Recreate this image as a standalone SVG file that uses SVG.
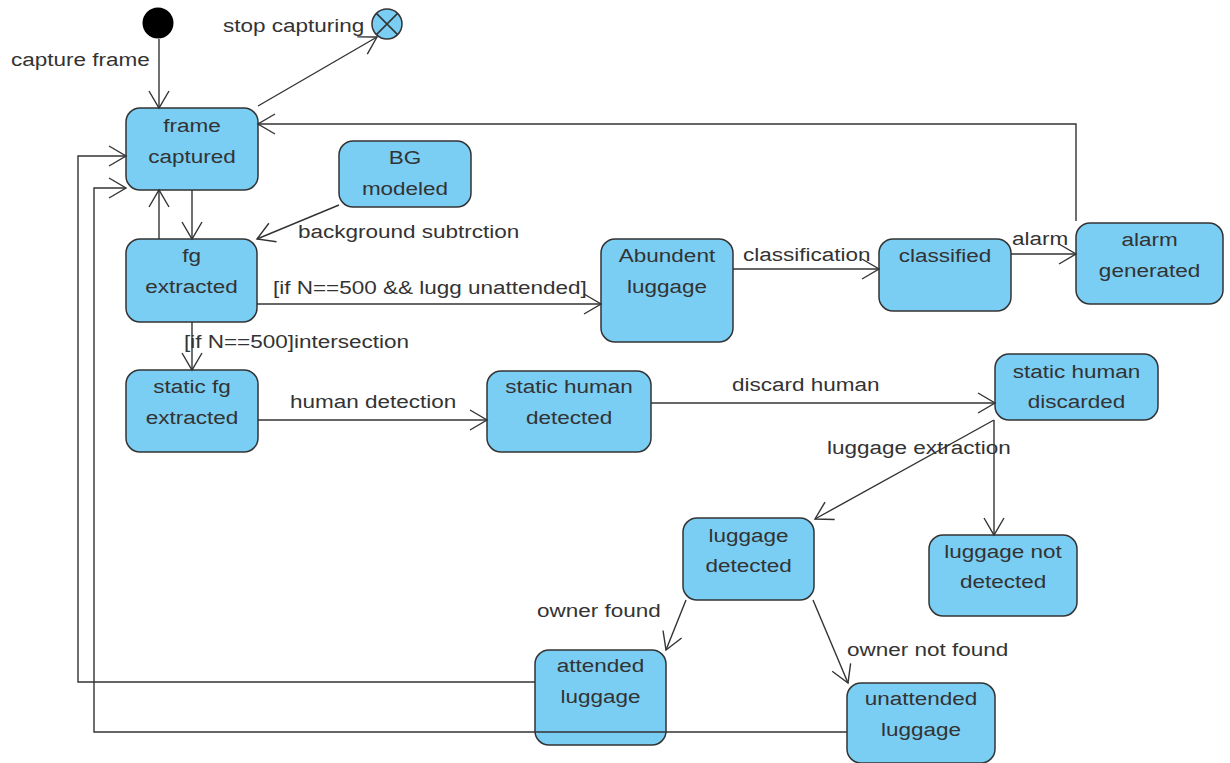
<svg xmlns="http://www.w3.org/2000/svg" width="1230" height="763" viewBox="0 0 1230 763">
<style>
.n{fill:#7ACEF4;stroke:#333;stroke-width:1.5}
.t{font-family:"Liberation Sans",Arial,sans-serif;font-size:18px;fill:#333}
.c{text-anchor:middle}
.e{fill:none;stroke:#333;stroke-width:1.4}
</style>
<defs>
<marker id="a" markerUnits="userSpaceOnUse" markerWidth="20" markerHeight="22" refX="17" refY="10" orient="auto" overflow="visible">
<path d="M0,0 L17,10 L0,20" fill="none" stroke="#333" stroke-width="1.4"/>
</marker>
</defs>
<rect width="1230" height="763" fill="#fff"/>

<g id="initial"><circle cx="158" cy="23" r="15.5" fill="#000"/></g>
<g id="final"><circle cx="387" cy="24" r="15" fill="#7ACEF4" stroke="#333" stroke-width="1.5"/>
<path d="M376.4,13.4 L397.6,34.6 M397.6,13.4 L376.4,34.6" stroke="#333" stroke-width="1.5"/></g>

<g id="frame_captured"><rect class="n" x="126" y="108" width="132" height="82" rx="14"/>
<text class="t c" transform="translate(192,132) scale(1.25,1)">frame</text>
<text class="t c" transform="translate(192,163) scale(1.25,1)">captured</text></g>

<g id="bg_modeled"><rect class="n" x="339" y="141" width="132" height="66" rx="14"/>
<text class="t c" transform="translate(405,164) scale(1.25,1)">BG</text>
<text class="t c" transform="translate(405,195) scale(1.25,1)">modeled</text></g>

<g id="fg_extracted"><rect class="n" x="126" y="239" width="131" height="83" rx="14"/>
<text class="t c" transform="translate(191.5,262) scale(1.25,1)">fg</text>
<text class="t c" transform="translate(191.5,293) scale(1.25,1)">extracted</text></g>

<g id="abundent_luggage"><rect class="n" x="601" y="239" width="132" height="103" rx="14"/>
<text class="t c" transform="translate(667,262) scale(1.25,1)">Abundent</text>
<text class="t c" transform="translate(667,293) scale(1.25,1)">luggage</text></g>

<g id="classified"><rect class="n" x="879" y="239" width="132" height="72" rx="14"/>
<text class="t c" transform="translate(945,262) scale(1.25,1)">classified</text></g>

<g id="alarm_generated"><rect class="n" x="1076" y="223" width="147" height="81" rx="14"/>
<text class="t c" transform="translate(1149.5,246) scale(1.25,1)">alarm</text>
<text class="t c" transform="translate(1149.5,277) scale(1.25,1)">generated</text></g>

<g id="static_fg_extracted"><rect class="n" x="126" y="370" width="132" height="82" rx="14"/>
<text class="t c" transform="translate(192,393) scale(1.25,1)">static fg</text>
<text class="t c" transform="translate(192,424) scale(1.25,1)">extracted</text></g>

<g id="static_human_detected"><rect class="n" x="487" y="371" width="164" height="81" rx="14"/>
<text class="t c" transform="translate(569,393) scale(1.25,1)">static human</text>
<text class="t c" transform="translate(569,424) scale(1.25,1)">detected</text></g>

<g id="static_human_discarded"><rect class="n" x="995" y="354" width="163" height="66" rx="14"/>
<text class="t c" transform="translate(1076.5,378) scale(1.25,1)">static human</text>
<text class="t c" transform="translate(1076.5,408) scale(1.25,1)">discarded</text></g>

<g id="luggage_detected"><rect class="n" x="683" y="518" width="131" height="82" rx="14"/>
<text class="t c" transform="translate(748.5,542) scale(1.25,1)">luggage</text>
<text class="t c" transform="translate(748.5,572) scale(1.25,1)">detected</text></g>

<g id="luggage_not_detected"><rect class="n" x="929" y="535" width="148" height="81" rx="14"/>
<text class="t c" transform="translate(1003,558) scale(1.25,1)">luggage not</text>
<text class="t c" transform="translate(1003,588) scale(1.25,1)">detected</text></g>

<g id="attended_luggage"><rect class="n" x="535" y="650" width="131" height="95" rx="14"/>
<text class="t c" transform="translate(600.5,672) scale(1.25,1)">attended</text>
<text class="t c" transform="translate(600.5,703) scale(1.25,1)">luggage</text></g>

<g id="unattended_luggage"><rect class="n" x="847" y="683" width="148" height="80" rx="14"/>
<text class="t c" transform="translate(921,705) scale(1.25,1)">unattended</text>
<text class="t c" transform="translate(921,736) scale(1.25,1)">luggage</text></g>

<g id="connectors">
<path class="e" d="M159,39 L159,108" marker-end="url(#a)"/>
<path class="e" d="M258,106 L377,37" marker-end="url(#a)"/>
<path class="e" d="M192,190 L192,239" marker-end="url(#a)"/>
<path class="e" d="M159,239 L159,190" marker-end="url(#a)"/>
<path class="e" d="M339,205 L257,239" marker-end="url(#a)"/>
<path class="e" d="M257,304 L601,304" marker-end="url(#a)"/>
<path class="e" d="M192,322 L192,370" marker-end="url(#a)"/>
<path class="e" d="M733,269 L879,269" marker-end="url(#a)"/>
<path class="e" d="M1011,254 L1076,254" marker-end="url(#a)"/>
<path class="e" d="M1076,221 L1076,124 L258,124" marker-end="url(#a)"/>
<path class="e" d="M258,420 L487,420" marker-end="url(#a)"/>
<path class="e" d="M651,403 L995,403" marker-end="url(#a)"/>
<path class="e" d="M994,420 L815,519" marker-end="url(#a)"/>
<path class="e" d="M994,420 L994,535" marker-end="url(#a)"/>
<path class="e" d="M686,600 L666,650" marker-end="url(#a)"/>
<path class="e" d="M813,600 L848,683" marker-end="url(#a)"/>
<path class="e" d="M535,682 L78,682 L78,156 L126,156" marker-end="url(#a)"/>
<path class="e" d="M847,732 L94,732 L94,188 L126,188" marker-end="url(#a)"/>
<text class="t" transform="translate(11,66) scale(1.25,1)">capture frame</text>
<text class="t" transform="translate(223,32) scale(1.25,1)">stop capturing</text>
<text class="t" transform="translate(298,238) scale(1.25,1)">background subtrction</text>
<text class="t" transform="translate(273,294) scale(1.25,1)">[if N==500 &amp;&amp; lugg unattended]</text>
<text class="t" transform="translate(184,348) scale(1.25,1)">[if N==500]intersection</text>
<text class="t" transform="translate(743,261) scale(1.25,1)">classification</text>
<text class="t" transform="translate(1012,245) scale(1.25,1)">alarm</text>
<text class="t" transform="translate(290,408) scale(1.25,1)">human detection</text>
<text class="t" transform="translate(732,391) scale(1.25,1)">discard human</text>
<text class="t" transform="translate(827,454) scale(1.25,1)">luggage extraction</text>
<text class="t" transform="translate(537,617) scale(1.25,1)">owner found</text>
<text class="t" transform="translate(847,656) scale(1.25,1)">owner not found</text>
</g>
</svg>
